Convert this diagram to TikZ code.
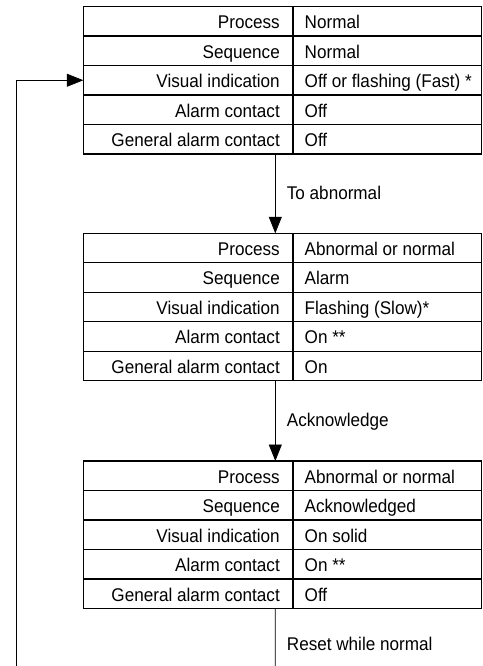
\documentclass[tikz,border=0pt]{standalone}
\usepackage{fontspec}
\setmainfont{Liberation Sans}[FakeStretch=0.93]
\usetikzlibrary{arrows.meta}
\newcommand\staterow[5]{%
  \node[labcell] (#1l#2) at (188.15, {#3+29.5*(#2-0.5)}) {};
  \node[valcell] (#1v#2) at (387.25, {#3+29.5*(#2-0.5)}) {};
  \node[txt, anchor=base east] (#1lt#2) at ([xshift=-13pt,yshift=-7.4pt]#1l#2.east) {#4};
  \node[txt, anchor=base west] (#1vt#2) at ([xshift=11.5pt,yshift=-7.4pt]#1v#2.west) {#5};
}
\begin{document}
\begin{tikzpicture}[x=1pt,y=-1pt,
  cell/.style={draw, line width=1.1pt, minimum height=29.5pt, inner sep=0pt, outer sep=0pt},
  labcell/.style={cell, minimum width=209.7pt},
  valcell/.style={cell, minimum width=188.5pt},
  tablebox/.style={inner sep=0pt, outer sep=0pt, minimum width=398.2pt, minimum height=147.5pt},
  txt/.style={font=\fontsize{18.4}{21}\selectfont, inner sep=0pt},
  conn/.style={line width=0.8pt, -{Triangle[length=16.5pt,width=13pt]}},
  plainline/.style={line width=0.8pt}]
\useasboundingbox (0,0) rectangle (482,666);
% table boxes (anchors)
\node[tablebox] (t1) at (282.4, 80.25) {};
\node[tablebox] (t2) at (282.4, 307.05) {};
\node[tablebox] (t3) at (282.4, 534.75) {};
% table 1
\staterow{a}{1}{6.5}{Process}{Normal}
\staterow{a}{2}{6.5}{Sequence}{Normal}
\staterow{a}{3}{6.5}{Visual indication}{Off or flashing (Fast) *}
\staterow{a}{4}{6.5}{Alarm contact}{Off}
\staterow{a}{5}{6.5}{General alarm contact}{Off}
% table 2
\staterow{b}{1}{233.3}{Process}{Abnormal or normal}
\staterow{b}{2}{233.3}{Sequence}{Alarm}
\staterow{b}{3}{233.3}{Visual indication}{Flashing (Slow)*}
\staterow{b}{4}{233.3}{Alarm contact}{On **}
\staterow{b}{5}{233.3}{General alarm contact}{On}
% table 3
\staterow{c}{1}{461}{Process}{Abnormal or normal}
\staterow{c}{2}{461}{Sequence}{Acknowledged}
\staterow{c}{3}{461}{Visual indication}{On solid}
\staterow{c}{4}{461}{Alarm contact}{On **}
\staterow{c}{5}{461}{General alarm contact}{Off}
% connectors
\draw[conn] ([xshift=-7.1pt]t1.south) -- ([xshift=-7.1pt]t2.north);
\draw[conn] ([xshift=-7.1pt]t2.south) -- ([xshift=-7.1pt]t3.north);
\coordinate (bot1) at (275.3, 666);
\draw[plainline] ([xshift=-7.1pt]t3.south) -- (bot1);
\coordinate (bot2) at (16, 666);
\draw[conn] (bot2) |- (al3.west);
% labels
\node[txt, anchor=base west] (lab1) at (286.7, 199.5) {To abnormal};
\node[txt, anchor=base west] (lab2) at (286.7, 426.7) {Acknowledge};
\node[txt, anchor=base west] (lab3) at (286.7, 650.7) {Reset while normal};
\end{tikzpicture}
\end{document}
